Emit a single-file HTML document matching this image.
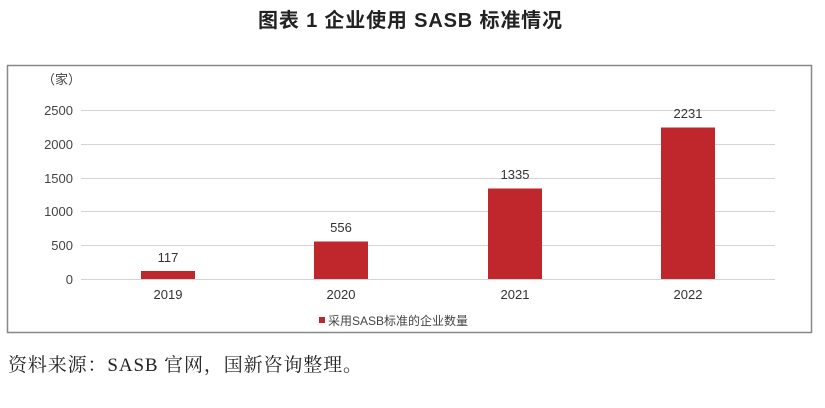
<!DOCTYPE html>
<html><head><meta charset="utf-8"><style>
body{margin:0;background:#fff;width:825px;height:403px;overflow:hidden;}
</style></head><body>
<svg width="825" height="403" xmlns="http://www.w3.org/2000/svg" font-family="'Liberation Sans','Noto Sans CJK SC',sans-serif">
<text x="258" y="27" font-size="20" font-weight="bold" fill="#222" textLength="304" lengthAdjust="spacing">图表 1  企业使用 SASB 标准情况</text>
<rect x="7.5" y="65.5" width="804" height="267" fill="#fff" stroke="#888" stroke-width="1.5"/>
<g stroke="#d4d4d4" stroke-width="1">
<line x1="81" x2="775" y1="110.5" y2="110.5"/>
<line x1="81" x2="775" y1="144.5" y2="144.5"/>
<line x1="81" x2="775" y1="178.5" y2="178.5"/>
<line x1="81" x2="775" y1="211.5" y2="211.5"/>
<line x1="81" x2="775" y1="245.5" y2="245.5"/>
<line x1="81" x2="775" y1="279.5" y2="279.5"/>
</g>
<g font-size="13" fill="#444" text-anchor="end">
<text x="73" y="115">2500</text>
<text x="73" y="149">2000</text>
<text x="73" y="183">1500</text>
<text x="73" y="216">1000</text>
<text x="73" y="250">500</text>
<text x="73" y="284">0</text>
</g>
<text x="42" y="84" font-size="13" fill="#444">（家）</text>
<g fill="#c0272d">
<rect x="141" y="271" width="54" height="8"/>
<rect x="314" y="241.5" width="54" height="37.5"/>
<rect x="488" y="188.5" width="54" height="90.5"/>
<rect x="661" y="127.5" width="54" height="151.5"/>
</g>
<g font-size="13" fill="#333" text-anchor="middle">
<text x="168" y="262">117</text>
<text x="341" y="232">556</text>
<text x="515" y="179">1335</text>
<text x="688" y="118">2231</text>
<text x="168" y="299">2019</text>
<text x="341" y="299">2020</text>
<text x="515" y="299">2021</text>
<text x="688" y="299">2022</text>
</g>
<rect x="319" y="317" width="6" height="6" fill="#c0272d"/>
<text x="328" y="325" font-size="12" fill="#444">采用SASB标准的企业数量</text>
<text x="8" y="371" font-size="19" fill="#222" font-family="'Liberation Serif','Noto Serif CJK SC',serif" textLength="354" lengthAdjust="spacing">资料来源：SASB 官网，国新咨询整理。</text>
</svg>
</body></html>
